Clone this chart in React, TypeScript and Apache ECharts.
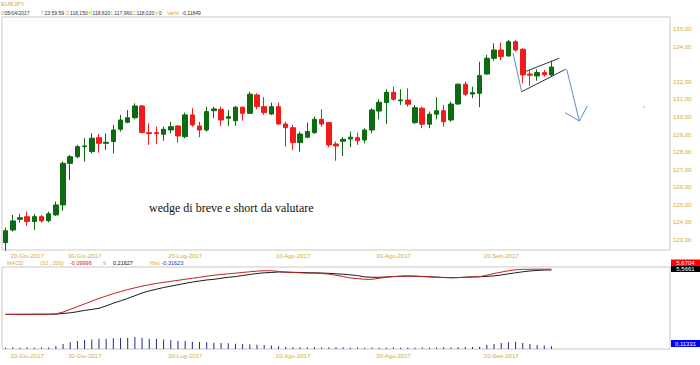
import React, { useEffect, useRef } from "react";
import * as echarts from "echarts";

// ---- price data (daily EURJPY candles, 15-Giu-2017 .. 29-Sett-2017)
const openP = [122.84,123.56,124.17,124.32,124.04,124.32,124.09,124.42,124.99,127.36,127.74,128.31,128.03,128.82,128.50,128.60,129.30,129.70,129.96,130.63,129.11,129.11,129.02,129.26,129.49,128.88,130.12,129.49,129.26,130.36,130.44,129.93,129.79,130.56,130.21,131.26,130.59,130.17,130.59,129.60,129.39,128.54,128.85,129.11,129.87,129.68,128.46,128.62,128.75,128.82,128.69,129.26,130.34,130.82,131.41,130.93,130.97,129.68,130.50,129.59,130.16,130.36,129.83,130.74,131.87,131.31,131.35,132.45,133.35,133.82,133.48,134.29,133.86,132.45,132.34,132.53,132.40];
const closeP = [123.52,124.08,124.26,124.04,124.32,124.08,124.48,124.99,127.36,127.74,128.31,128.35,128.79,128.50,128.56,129.26,129.83,129.96,130.63,129.11,129.05,129.05,129.30,129.45,128.92,130.12,129.55,129.26,130.31,130.46,129.83,130.02,130.56,130.21,131.30,130.59,130.25,130.59,129.60,129.39,128.54,129.03,129.17,129.87,129.60,128.41,128.35,128.73,128.85,128.65,129.26,130.40,130.84,131.41,131.01,130.97,130.73,130.53,129.59,130.16,130.36,129.73,130.74,131.87,131.30,131.39,132.36,133.35,133.82,133.44,134.29,133.82,132.40,132.38,132.53,132.41,132.85];
const lowP = [122.38,123.47,123.98,123.79,123.56,123.98,124.00,124.36,124.66,126.41,127.65,127.46,127.93,127.97,128.12,127.93,129.17,129.64,129.87,129.07,128.41,128.46,128.65,129.07,128.54,128.79,129.45,128.85,129.17,129.93,129.49,129.49,129.49,129.79,130.17,130.44,130.12,130.12,129.55,128.31,128.12,128.03,128.79,129.03,129.45,128.28,127.51,127.78,128.28,128.41,128.50,129.07,129.87,129.60,130.93,130.69,130.59,129.60,129.36,129.36,129.87,129.45,129.73,130.69,131.20,131.07,130.56,132.40,133.21,133.25,133.44,133.72,131.92,131.77,132.07,132.30,132.34];
const highP = [123.70,124.42,124.48,124.61,124.48,124.42,124.61,125.18,127.46,127.84,128.41,128.79,129.07,129.03,129.07,129.55,130.12,130.40,130.78,130.69,129.64,129.45,129.45,129.73,129.55,130.25,130.50,129.73,130.59,130.59,130.59,130.40,130.63,130.59,131.44,131.35,131.13,130.82,130.82,129.73,129.55,129.17,129.68,130.02,130.44,129.73,128.60,128.85,129.17,129.11,129.36,130.50,131.01,131.58,131.73,131.58,131.64,130.69,130.59,130.31,131.13,130.69,130.87,131.92,132.01,131.73,133.15,133.54,134.20,134.24,134.39,134.39,133.92,132.68,132.72,132.68,133.21];
const lastClose = 132.85;

// ---- MACD (32, 200) panel
const macdRed = [-0.93,-0.93,-0.92,-0.92,-0.91,-0.91,-0.9,-0.85,
  -0.6,-0.2,0.2,0.6,1.0,1.4,1.75,2.1,2.4,2.7,2.95,3.2,3.4,3.6,3.75,3.9,4.05,4.2,4.35,4.5,4.65,4.8,4.9,5.0,5.1,5.2,5.3,5.4,5.45,5.45,
  5.35,5.25,5.2,5.15,5.1,5.1,5.05,4.95,4.8,4.6,4.4,4.3,4.2,4.2,4.35,4.5,4.6,4.65,4.68,4.65,4.6,4.55,4.5,4.45,4.43,4.45,4.5,4.55,4.58,
  4.8,5.05,5.25,5.45,5.6,5.65,5.67,5.68,5.68,5.67];
const macdBlack = [-0.93,-0.93,-0.93,-0.93,-0.92,-0.92,-0.92,-0.9,
  -0.8,-0.7,-0.55,-0.35,-0.2,-0.05,0.3,0.7,1.05,1.4,1.8,2.2,2.5,2.75,3.0,3.2,3.4,3.6,3.8,3.95,4.1,4.2,4.35,4.5,4.6,4.75,4.9,5.05,5.15,5.2,
  5.27,5.25,5.22,5.2,5.17,5.15,5.12,5.08,5.0,4.95,4.85,4.75,4.55,4.5,4.49,4.55,4.6,4.65,4.68,4.66,4.62,4.57,4.52,4.47,4.43,4.45,4.5,4.55,4.58,
  4.62,4.7,4.83,5.0,5.15,5.3,5.42,5.5,5.55,5.57];
const histVals = [0.05,0.06,0.05,0.06,0.05,0.06,0.06,
  0.125,0.21,0.28,0.33,0.375,0.39,0.42,0.43,0.445,0.46,0.47,0.5,0.47,0.43,0.42,0.39,0.375,0.345,0.33,0.305,0.29,0.28,0.26,0.25,0.24,0.22,0.21,0.195,0.18,0.165,0.14,0.11,
  0.08,0.07,0.07,0.06,0.07,0.06,0.06,0.07,0.06,0.05,0.06,0.05,0.06,0.05,0.05,0.06,0.05,0.06,0.05,0.06,0.05,0.06,0.07,0.06,0.07,0.08,0.08,0.09,
  0.165,0.21,0.25,0.28,0.3,0.25,0.21,0.165,0.14,0.113];

// ---- axes / labels
const shownDates = ["20-Giu-2017","30-Giu-2017","20-Lug-2017","10-Ago-2017","30-Ago-2017","20-Sett-2017"];
const priceTicks = [123,124,125,126,127,128,129,130,131,132,134,135];
const monthsIt = ["Gen","Feb","Mar","Apr","Mag","Giu","Lug","Ago","Sett","Ott","Nov","Dic"];
const firstDay = [2017, 5, 15];
const totalDays = 93;

// ---- drawn annotations (category index, price)
const arrowIn = [[70.64,133.65],[71.85,131.44]];
const wedgeLower = [[71.85,131.44],[77.95,132.72]];
const wedgeUpper = [[72.31,132.58],[77.09,133.35]];
const arrowOut = [[78.12,132.72],[79.88,129.77]];
const arrowHeadL = [[77.88,130.25],[79.88,129.77]];
const arrowHeadR = [[80.98,130.63],[79.88,129.77]];

function tradingDays(): string[] {
  const out: string[] = [];
  const d = new Date(Date.UTC(firstDay[0], firstDay[1], firstDay[2]));
  while (out.length < totalDays) {
    const wd = d.getUTCDay();
    if (wd !== 0 && wd !== 6) {
      out.push(String(d.getUTCDate()).padStart(2, "0") + "-" + monthsIt[d.getUTCMonth()] + "-" + d.getUTCFullYear());
    }
    d.setUTCDate(d.getUTCDate() + 1);
  }
  return out;
}

const GOLD = "#d6a935";
const DARK = "#333333";
const SANS = "Liberation Sans";

function txt(x: number, y: number, text: string, fill: string, size = 5) {
  return { type: "text", x, y, silent: true, style: { text, fill, fontSize: size, fontFamily: SANS, verticalAlign: "middle", align: "left" } };
}

export default function App() {
  const ref = useRef<HTMLDivElement>(null);
  useEffect(() => {
    if (!ref.current) return;
    const chart = echarts.init(ref.current, undefined, { renderer: "svg" });
    const dates = tradingDays();
    const candles = openP.map((o, i) => [o, closeP[i], lowP[i], highP[i]]);
    const fmtPrice = (v: number) => v.toFixed(2).replace(".", ",");
    const xLabel = { interval: (_i: number, v: string) => shownDates.includes(v), color: GOLD, fontSize: 6, fontFamily: SANS };

    const header = [
      txt(1, 4, "EURJPY", GOLD, 6),
      txt(1, 12.5, "D", GOLD), txt(4.5, 12.5, "05/04/2017", DARK),
      txt(41, 12.5, "T", GOLD), txt(44.5, 12.5, "23:59:59", DARK),
      txt(65.5, 12.5, "O", GOLD), txt(70, 12.5, "118,150", DARK),
      txt(88.5, 12.5, "H", GOLD), txt(92.5, 12.5, "118,820", DARK),
      txt(111, 12.5, "L", GOLD), txt(114.3, 12.5, "117,960", DARK),
      txt(132.5, 12.5, "C", GOLD), txt(136.5, 12.5, "118,020", DARK),
      txt(155, 12.5, "V", GOLD), txt(159, 12.5, "0", DARK),
      txt(167, 12.5, "Var%", GOLD), txt(181.5, 12.5, "-0,11849", DARK),
    ];
    const macdRow = [
      txt(7, 263, "MACD", GOLD, 5.5), txt(40, 263, "(32 , 200)", GOLD, 5.5),
      txt(70, 263, "-0,09996", "#d01818", 5.5), txt(103, 263, "9", GOLD, 5.5),
      txt(113, 263, "0,21627", "#111", 5.5), txt(150, 263, "Hist", GOLD, 5.5),
      txt(161.5, 263, "-0,31623", "#2233aa", 5.5),
    ];
    const tag = (y: number, h: number, bg: string, text: string) => [
      { type: "rect", silent: true, shape: { x: 671, y, width: 29, height: h }, style: { fill: bg } },
      { type: "text", silent: true, x: 685.5, y: y + h / 2, style: { text, fill: "#fff", fontSize: 6, fontFamily: SANS, align: "center", verticalAlign: "middle" } },
    ];

    const option: any = {
      animation: false,
      backgroundColor: "#ffffff",
      grid: [
        { left: 2, top: 17, width: 668, height: 233, show: true, borderColor: "#c8c8c8", borderWidth: 1 },
        { left: 2, top: 267, width: 668, height: 82, show: true, borderColor: "#c8c8c8", borderWidth: 1 },
      ],
      xAxis: [
        { type: "category", gridIndex: 0, data: dates, boundaryGap: true, axisLine: { show: false }, axisTick: { show: false }, splitLine: { show: false }, axisLabel: { ...xLabel, margin: 2.5 } },
        { type: "category", gridIndex: 1, data: dates, boundaryGap: true, axisLine: { show: false }, axisTick: { show: false }, splitLine: { show: false }, axisLabel: { ...xLabel, margin: 3.5 } },
        { type: "value", gridIndex: 0, min: -0.5, max: totalDays - 0.5, show: false },
      ],
      yAxis: [
        { type: "value", gridIndex: 0, position: "right", min: 122.42, max: 135.7, splitLine: { show: false }, axisLine: { show: false }, axisTick: { show: false },
          axisLabel: { customValues: priceTicks, formatter: fmtPrice, color: GOLD, fontSize: 6, fontFamily: SANS, margin: 3 } },
        { type: "value", gridIndex: 1, min: -6, max: 6, show: false },
        { type: "value", gridIndex: 1, min: 0, max: 3.4, show: false },
      ],
      series: [
        {
          type: "candlestick", xAxisIndex: 0, yAxisIndex: 0, data: candles, barWidth: 5,
          itemStyle: { color: "#0c6a10", color0: "#f01b1b", borderColor: "#0c6a10", borderColor0: "#f01b1b", borderWidth: 1 },
          markLine: {
            silent: true, symbol: ["none", "none"], lineStyle: { opacity: 0 },
            label: { show: true, position: "end", formatter: lastClose.toFixed(3).replace(".", ","), backgroundColor: "#c8c8c8", color: "#111", fontSize: 6, fontFamily: SANS, padding: [1, 4, 1, 3], distance: 1 },
            data: [{ yAxis: lastClose }],
          },
        },
        {
          type: "lines", coordinateSystem: "cartesian2d", xAxisIndex: 2, yAxisIndex: 0, silent: true,
          lineStyle: { width: 1, opacity: 1, curveness: 0 },
          data: [
            { coords: arrowIn, lineStyle: { color: "#5a8ccc" } },
            { coords: wedgeLower, lineStyle: { color: "#333" } },
            { coords: wedgeUpper, lineStyle: { color: "#333" } },
            { coords: arrowOut, lineStyle: { color: "#5a8ccc" } },
            { coords: arrowHeadL, lineStyle: { color: "#5a8ccc" } },
            { coords: arrowHeadR, lineStyle: { color: "#5a8ccc" } },
          ],
        },
        { type: "bar", xAxisIndex: 1, yAxisIndex: 2, data: histVals, barWidth: 1, itemStyle: { color: "#1e2a88" } },
        { type: "line", xAxisIndex: 1, yAxisIndex: 1, data: macdBlack, showSymbol: false, lineStyle: { color: "#1a1a1a", width: 1 } },
        { type: "line", xAxisIndex: 1, yAxisIndex: 1, data: macdRed, showSymbol: false, lineStyle: { color: "#c42020", width: 1 } },
      ],
      graphic: [
        ...header,
        ...macdRow,
        ...tag(259.5, 6, "#ff0000", "5,6704"),
        ...tag(265.5, 6.5, "#000000", "5,5661"),
        ...tag(340, 7, "#0000ff", "0,11331"),
        { type: "rect", silent: true, shape: { x: 643, y: 106.5, width: 2, height: 1 }, style: { fill: "#aaa" } },
        { type: "text", silent: true, x: 149, y: 207.5, style: { text: "wedge di breve e short da valutare", fill: "#111", fontSize: 12, fontFamily: "Liberation Serif", verticalAlign: "middle" } },
      ],
    };
    chart.setOption(option);
    return () => chart.dispose();
  }, []);
  return <div ref={ref} style={{ position: "absolute", left: 0, top: 0, width: 700, height: 365, background: "#fff" }} />;
}
